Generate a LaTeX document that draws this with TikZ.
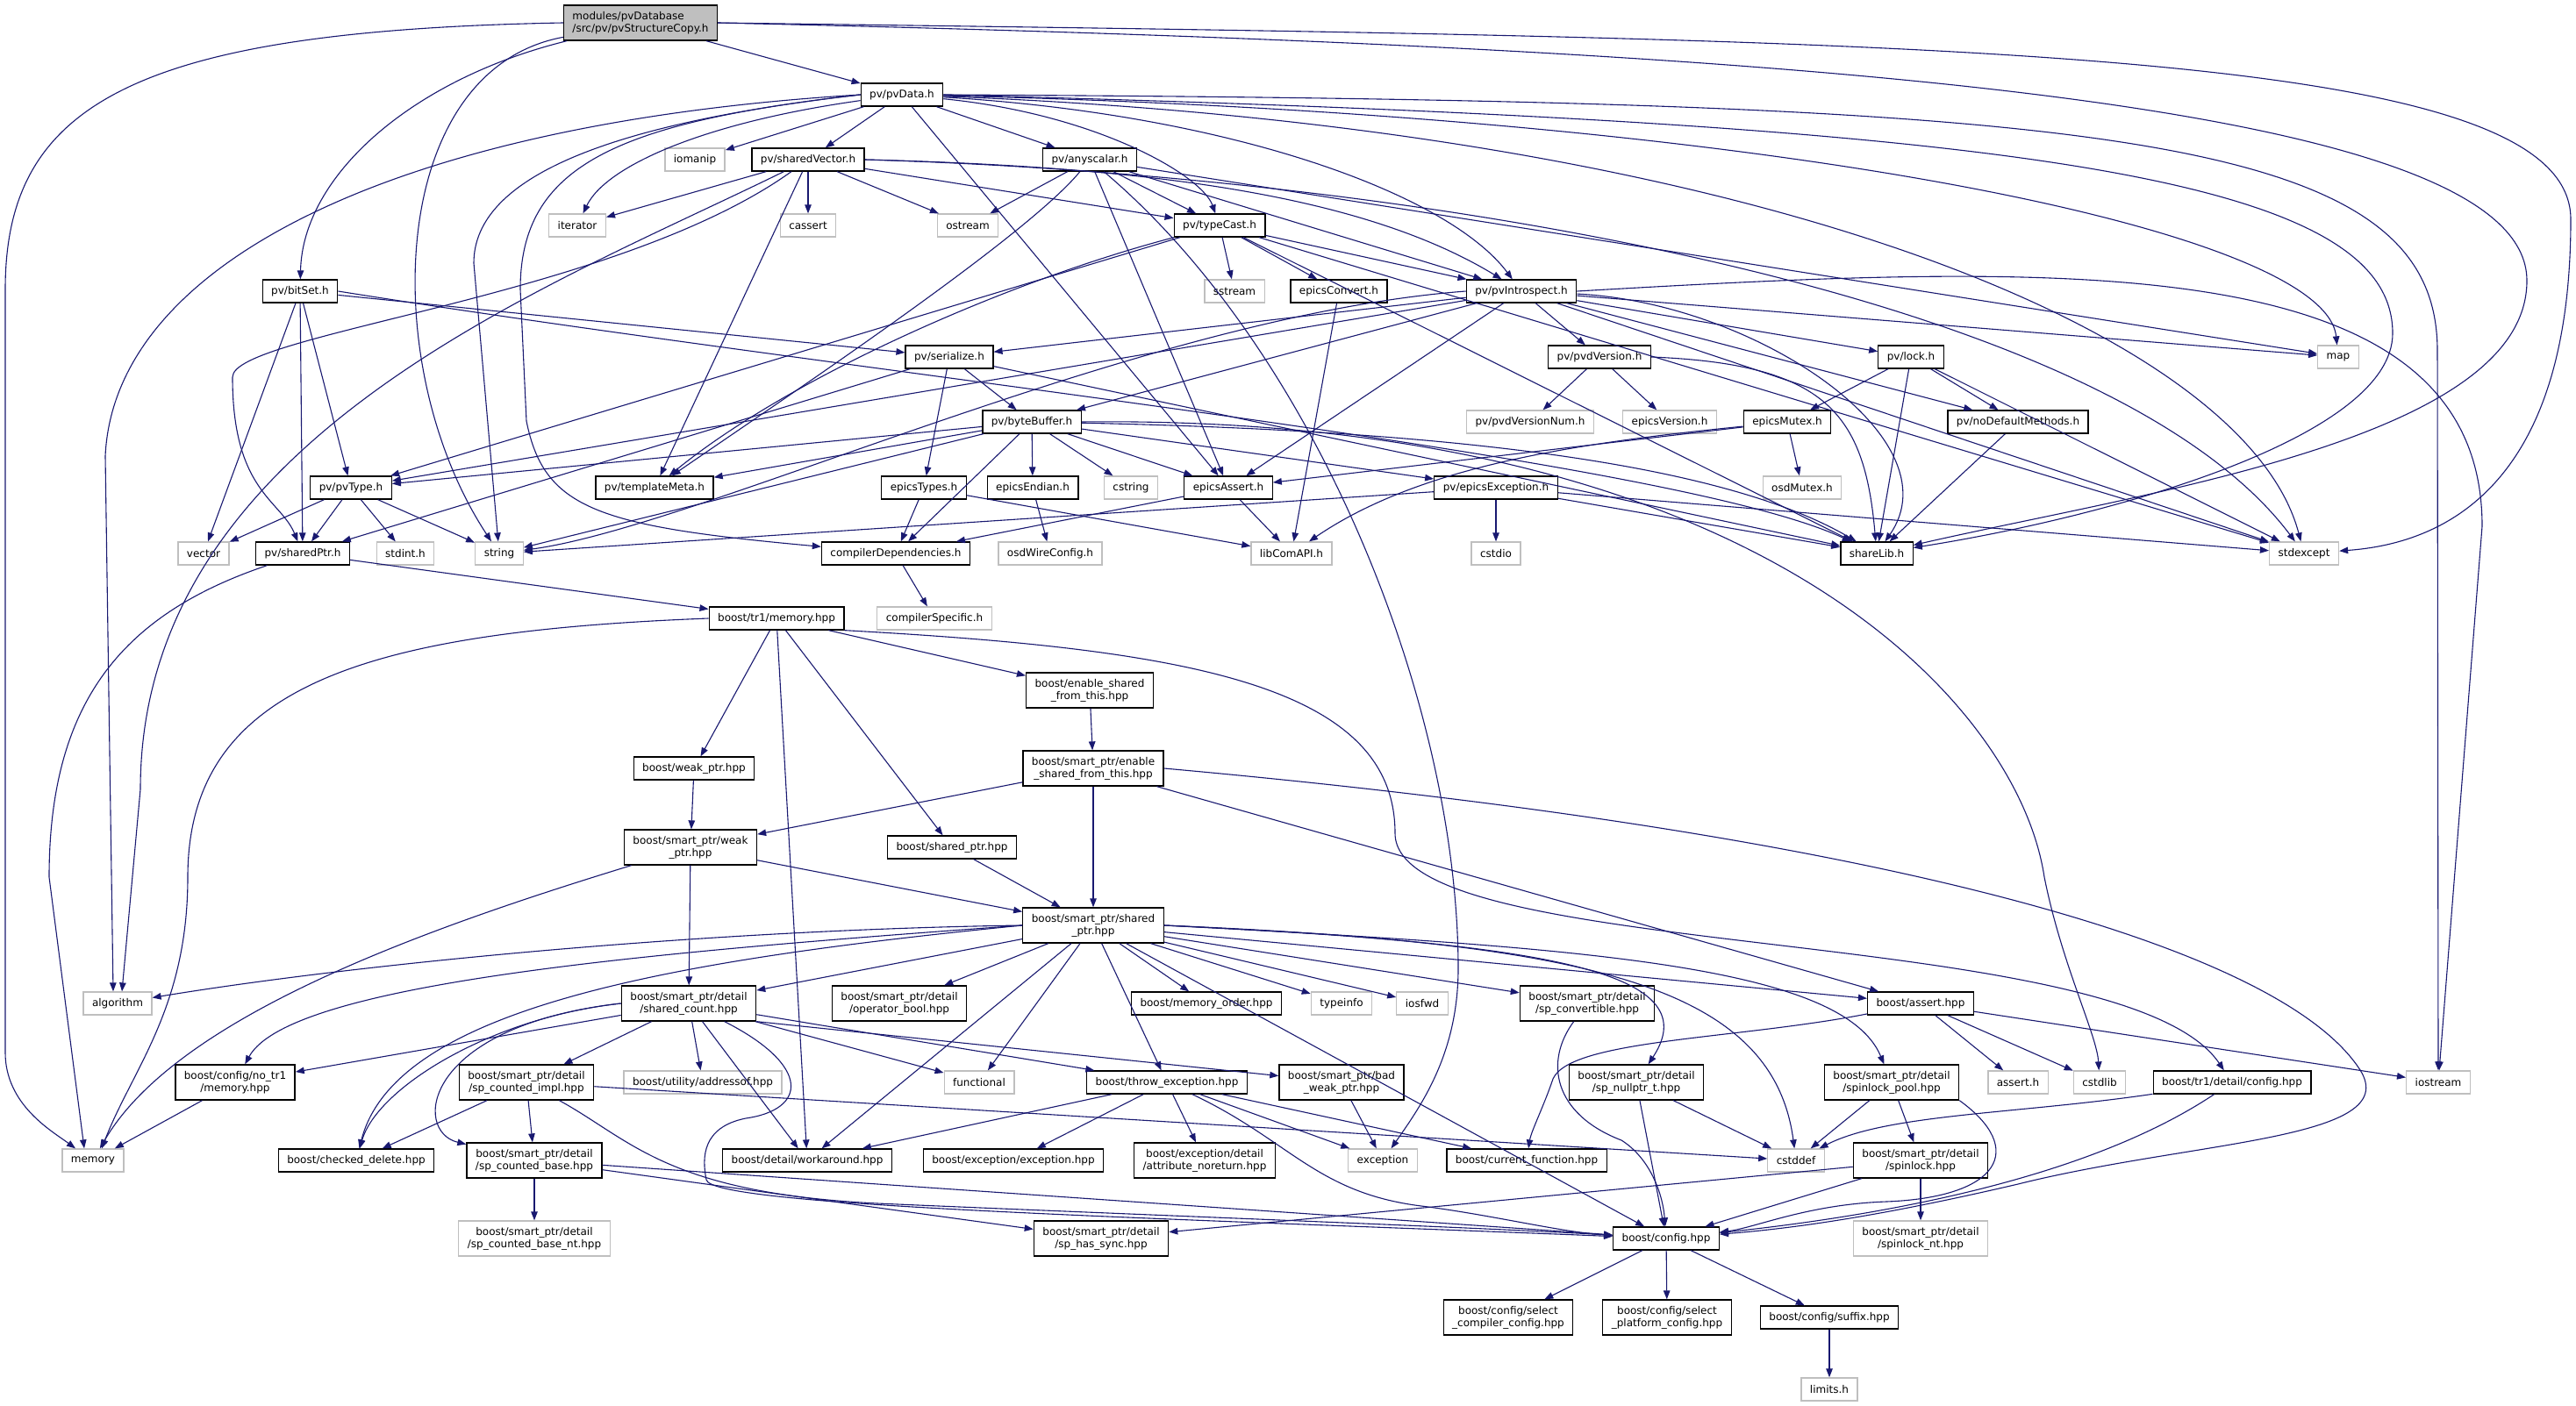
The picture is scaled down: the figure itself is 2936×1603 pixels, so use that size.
\documentclass[tikz,border=0pt]{standalone}
\usepackage{fontspec}
\setmainfont{DejaVu Sans}
\usepackage{xcolor}
\definecolor{edgeblue}{RGB}{25,25,112}
\definecolor{sysgray}{RGB}{191,191,191}
\usetikzlibrary{arrows.meta}
\tikzset{
  incl/.style={draw=black, fill=white, line width=1.3pt, inner xsep=10pt, inner ysep=4pt,
               minimum height=26pt, align=center, font=\fontsize{12}{14}\selectfont},
  sysincl/.style={incl, draw=sysgray},
  tall/.style={minimum height=40pt},
  rootfile/.style={incl, tall, fill=sysgray, align=left},
  dep/.style={draw=edgeblue, line width=1.1pt, -{Triangle[length=10pt,width=7.5pt]}},
}

\begin{document}
\begin{tikzpicture}[x=1pt,y=-1pt]
  \useasboundingbox (0,0) rectangle (2936,1603);

  % headers
  \node[rootfile] (root) at (730,26) {modules/pvDatabase\\/src/pv/pvStructureCopy.h};
  \node[incl] (pvData) at (1028,108) {pv/pvData.h};
  \node[sysincl] (iomanip) at (792,182) {iomanip};
  \node[incl] (sharedVector) at (921,182) {pv/sharedVector.h};
  \node[incl] (anyscalar) at (1242,182) {pv/anyscalar.h};
  \node[sysincl] (iterator) at (658,257) {iterator};
  \node[sysincl] (cassert) at (921,257) {cassert};
  \node[sysincl] (ostream) at (1103,257) {ostream};
  \node[incl] (typeCast) at (1390,257) {pv/typeCast.h};
  \node[incl] (bitSet) at (342,332) {pv/bitSet.h};
  \node[sysincl] (sstream) at (1407,332) {sstream};
  \node[incl] (epicsConvert) at (1526,332) {epicsConvert.h};
  \node[incl] (pvIntrospect) at (1734,332) {pv/pvIntrospect.h};
  \node[sysincl] (map) at (2665,407) {map};
  \node[incl] (serialize) at (1082,407) {pv/serialize.h};
  \node[incl] (pvdVersion) at (1823,407) {pv/pvdVersion.h};
  \node[incl] (lock) at (2178,407) {pv/lock.h};
  \node[incl] (byteBuffer) at (1176,481) {pv/byteBuffer.h};
  \node[sysincl] (pvdVersionNum) at (1744,481) {pv/pvdVersionNum.h};
  \node[sysincl] (epicsVersion) at (1903,481) {epicsVersion.h};
  \node[incl] (epicsMutex) at (2037,481) {epicsMutex.h};
  \node[incl] (noDefaultMethods) at (2300,481) {pv/noDefaultMethods.h};
  \node[incl] (pvType) at (400,556) {pv/pvType.h};
  \node[incl] (templateMeta) at (746,556) {pv/templateMeta.h};
  \node[incl] (epicsTypes) at (1053,556) {epicsTypes.h};
  \node[incl] (epicsEndian) at (1177,556) {epicsEndian.h};
  \node[sysincl] (cstring) at (1289,556) {cstring};
  \node[incl] (epicsAssert) at (1400,556) {epicsAssert.h};
  \node[incl] (epicsException) at (1705,556) {pv/epicsException.h};
  \node[sysincl] (osdMutex) at (2054,556) {osdMutex.h};
  \node[sysincl] (vector) at (232,631) {vector};
  \node[incl] (sharedPtr) at (345,631) {pv/sharedPtr.h};
  \node[sysincl] (stdint) at (462,631) {stdint.h};
  \node[sysincl] (string) at (569,631) {string};
  \node[incl] (compilerDependencies) at (1021,631) {compilerDependencies.h};
  \node[sysincl] (osdWireConfig) at (1197,631) {osdWireConfig.h};
  \node[sysincl] (libComAPI) at (1472,631) {libComAPI.h};
  \node[sysincl] (cstdio) at (1705,631) {cstdio};
  \node[incl] (shareLib) at (2139,631) {shareLib.h};
  \node[sysincl] (stdexcept) at (2626,631) {stdexcept};
  \node[sysincl] (compilerSpecific) at (1065,705) {compilerSpecific.h};
  \node[incl] (tr1memory) at (885,705) {boost/tr1/memory.hpp};
  \node[incl,tall] (enableShared) at (1242,787) {boost/enable\_shared\\\_from\_this.hpp};
  \node[incl] (weakPtr) at (791,876) {boost/weak\_ptr.hpp};
  \node[incl,tall] (spEnableShared) at (1246,876) {boost/smart\_ptr/enable\\\_shared\_from\_this.hpp};
  \node[incl,tall] (spWeakPtr) at (787,966) {boost/smart\_ptr/weak\\\_ptr.hpp};
  \node[incl] (sharedPtrHpp) at (1085,966) {boost/shared\_ptr.hpp};
  \node[incl,tall] (spSharedPtr) at (1246,1055) {boost/smart\_ptr/shared\\\_ptr.hpp};
  \node[sysincl] (algorithm) at (134,1144) {algorithm};
  \node[incl,tall] (sharedCount) at (785,1144) {boost/smart\_ptr/detail\\/shared\_count.hpp};
  \node[incl,tall] (operatorBool) at (1025,1144) {boost/smart\_ptr/detail\\/operator\_bool.hpp};
  \node[incl] (memoryOrder) at (1375,1144) {boost/memory\_order.hpp};
  \node[sysincl] (typeinfo) at (1529,1144) {typeinfo};
  \node[sysincl] (iosfwd) at (1621,1144) {iosfwd};
  \node[incl,tall] (spConvertible) at (1809,1144) {boost/smart\_ptr/detail\\/sp\_convertible.hpp};
  \node[incl] (assertHpp) at (2189,1144) {boost/assert.hpp};
  \node[incl,tall] (noTrMemory) at (268,1234) {boost/config/no\_tr1\\/memory.hpp};
  \node[incl,tall] (spCountedImpl) at (600,1234) {boost/smart\_ptr/detail\\/sp\_counted\_impl.hpp};
  \node[sysincl] (addressof) at (801,1234) {boost/utility/addressof.hpp};
  \node[sysincl] (functional) at (1116,1234) {functional};
  \node[incl] (throwException) at (1330,1234) {boost/throw\_exception.hpp};
  \node[incl,tall] (badWeakPtr) at (1529,1234) {boost/smart\_ptr/bad\\\_weak\_ptr.hpp};
  \node[incl,tall] (spNullptr) at (1865,1234) {boost/smart\_ptr/detail\\/sp\_nullptr\_t.hpp};
  \node[incl,tall] (spinlockPool) at (2156,1234) {boost/smart\_ptr/detail\\/spinlock\_pool.hpp};
  \node[sysincl] (assertH) at (2300,1234) {assert.h};
  \node[sysincl] (cstdlib) at (2393,1234) {cstdlib};
  \node[incl] (trDetailConfig) at (2544,1234) {boost/tr1/detail/config.hpp};
  \node[sysincl] (iostream) at (2779,1234) {iostream};
  \node[sysincl] (memory) at (106,1323) {memory};
  \node[incl] (checkedDelete) at (406,1323) {boost/checked\_delete.hpp};
  \node[incl,tall] (spCountedBase) at (609,1323) {boost/smart\_ptr/detail\\/sp\_counted\_base.hpp};
  \node[incl] (workaround) at (920,1323) {boost/detail/workaround.hpp};
  \node[incl] (exceptionHpp) at (1155,1323) {boost/exception/exception.hpp};
  \node[incl,tall] (attrNoreturn) at (1373,1323) {boost/exception/detail\\/attribute\_noreturn.hpp};
  \node[sysincl] (exception) at (1576,1323) {exception};
  \node[incl] (currentFunction) at (1740,1323) {boost/current\_function.hpp};
  \node[sysincl] (cstddef) at (2047,1323) {cstddef};
  \node[incl,tall] (spinlock) at (2189,1323) {boost/smart\_ptr/detail\\/spinlock.hpp};
  \node[sysincl,tall] (spCountedBaseNt) at (609,1412) {boost/smart\_ptr/detail\\/sp\_counted\_base\_nt.hpp};
  \node[incl,tall] (spHasSync) at (1255,1412) {boost/smart\_ptr/detail\\/sp\_has\_sync.hpp};
  \node[incl] (configHpp) at (1899,1412) {boost/config.hpp};
  \node[sysincl,tall] (spinlockNt) at (2189,1412) {boost/smart\_ptr/detail\\/spinlock\_nt.hpp};
  \node[incl,tall] (selectCompiler) at (1719,1502) {boost/config/select\\\_compiler\_config.hpp};
  \node[incl,tall] (selectPlatform) at (1900,1502) {boost/config/select\\\_platform\_config.hpp};
  \node[incl] (suffix) at (2085,1502) {boost/config/suffix.hpp};
  \node[sysincl] (limitsH) at (2085,1584) {limits.h};

  % straight includes
  \foreach \src/\dst in {root/pvData,
      pvData/iomanip, pvData/sharedVector, pvData/anyscalar, pvData/epicsAssert,
      sharedVector/iterator, sharedVector/cassert, sharedVector/ostream, sharedVector/typeCast, sharedVector/templateMeta,
      anyscalar/ostream, anyscalar/typeCast, anyscalar/pvIntrospect, anyscalar/epicsAssert, anyscalar/map,
      typeCast/sstream, typeCast/epicsConvert, typeCast/pvIntrospect, typeCast/pvType, typeCast/shareLib, typeCast/stdexcept,
      bitSet/vector, bitSet/pvType, bitSet/sharedPtr, bitSet/serialize,
      pvIntrospect/serialize, pvIntrospect/byteBuffer, pvIntrospect/pvType, pvIntrospect/epicsAssert, pvIntrospect/pvdVersion,
      pvIntrospect/lock, pvIntrospect/noDefaultMethods, pvIntrospect/map, pvIntrospect/stdexcept,
      serialize/byteBuffer, serialize/epicsTypes, serialize/sharedPtr, serialize/shareLib,
      byteBuffer/pvType, byteBuffer/templateMeta, byteBuffer/string, byteBuffer/compilerDependencies, byteBuffer/epicsEndian,
      byteBuffer/cstring, byteBuffer/epicsAssert, byteBuffer/epicsException,
      pvdVersion/pvdVersionNum, pvdVersion/epicsVersion,
      lock/epicsMutex, lock/shareLib, lock/noDefaultMethods, lock/stdexcept,
      epicsMutex/osdMutex, epicsMutex/epicsAssert, noDefaultMethods/shareLib,
      pvType/vector, pvType/sharedPtr, pvType/stdint, pvType/string,
      epicsTypes/compilerDependencies, epicsTypes/libComAPI, epicsEndian/osdWireConfig,
      epicsAssert/compilerDependencies, epicsAssert/libComAPI, epicsConvert/libComAPI,
      epicsException/cstdio, epicsException/string, epicsException/stdexcept, epicsException/shareLib,
      compilerDependencies/compilerSpecific, sharedPtr/tr1memory,
      tr1memory/enableShared, tr1memory/weakPtr, tr1memory/sharedPtrHpp, tr1memory/workaround,
      enableShared/spEnableShared, weakPtr/spWeakPtr, sharedPtrHpp/spSharedPtr,
      spEnableShared/spWeakPtr, spEnableShared/spSharedPtr, spEnableShared/assertHpp,
      spWeakPtr/sharedCount, spWeakPtr/spSharedPtr,
      spSharedPtr/sharedCount, spSharedPtr/operatorBool, spSharedPtr/functional, spSharedPtr/workaround,
      spSharedPtr/throwException, spSharedPtr/memoryOrder, spSharedPtr/typeinfo, spSharedPtr/iosfwd,
      spSharedPtr/spConvertible, spSharedPtr/assertHpp, spSharedPtr/configHpp,
      sharedCount/noTrMemory, sharedCount/spCountedImpl, sharedCount/addressof, sharedCount/functional,
      sharedCount/throwException, sharedCount/workaround, noTrMemory/memory,
      spCountedImpl/checkedDelete, spCountedImpl/spCountedBase, spCountedImpl/cstddef,
      spCountedBase/spCountedBaseNt, spCountedBase/spHasSync, spCountedBase/configHpp,
      throwException/workaround, throwException/exceptionHpp, throwException/attrNoreturn,
      throwException/exception, throwException/currentFunction, badWeakPtr/exception,
      spNullptr/configHpp, spNullptr/cstddef, assertHpp/assertH, assertHpp/cstdlib, assertHpp/iostream,
      spinlockPool/cstddef, spinlockPool/spinlock, spinlock/spHasSync, spinlock/configHpp, spinlock/spinlockNt,
      configHpp/selectCompiler, configHpp/selectPlatform, configHpp/suffix, suffix/limitsH}
    \draw[dep] (\src) -- (\dst);

  % routed includes
  \draw[dep] (root) .. controls (470,90) and (345,200) .. (bitSet);
  \draw[dep] (root) .. controls (440,80) and (430,420) .. (string);
  \draw[dep] (root.west) .. controls (150,35) and (6,120) .. (6,330) -- (6,1200)
    .. controls (6,1260) and (60,1290) .. ([xshift=-20pt]memory.north);
  \draw[dep] (root.east) .. controls (2200,45) and (2930,50) .. (2930,250)
    .. controls (2930,560) and (2780,620) .. (stdexcept);
  \draw[dep] (root.east) .. controls (2100,55) and (2880,120) .. (2880,320)
    .. controls (2880,500) and (2450,560) .. (shareLib);
  \draw[dep] (pvData) .. controls (800,140) and (690,190) .. (iterator);
  \draw[dep] (pvData) .. controls (1250,130) and (1370,200) .. (typeCast);
  \draw[dep] (pvData) .. controls (1400,130) and (1650,220) .. (pvIntrospect);
  \draw[dep] (pvData) .. controls (2000,130) and (2650,260) .. (map);
  \draw[dep] (pvData) .. controls (2000,145) and (2560,380) .. (stdexcept);
  \draw[dep] (pvData.east) .. controls (2300,140) and (2727,200) .. (2727,380)
    .. controls (2727,500) and (2400,590) .. (shareLib);
  \draw[dep] (pvData.east) .. controls (2400,115) and (2778,150) .. (2778,400) -- (iostream);
  \draw[dep] (pvData.west) .. controls (450,140) and (130,300) .. (120,520) -- ([xshift=-5pt]algorithm.north);
  \draw[dep] (pvData.west) .. controls (700,140) and (540,200) .. (540,300) -- (string);
  \draw[dep] (pvData.west) .. controls (700,140) and (593,190) .. (593,330) -- (600,480)
    .. controls (620,580) and (680,600) .. (compilerDependencies);
  \draw[dep] (sharedVector) .. controls (620,330) and (160,500) .. (160,900) -- ([xshift=5pt]algorithm.north);
  \draw[dep] (sharedVector) .. controls (700,340) and (265,380) .. (265,430)
    .. controls (265,560) and (320,570) .. (sharedPtr);
  \draw[dep] (sharedVector.east) .. controls (1600,200) and (2400,330) .. (stdexcept);
  \draw[dep] (sharedVector.east) .. controls (1300,190) and (1550,220) .. (pvIntrospect);
  \draw[dep] (anyscalar) .. controls (1170,270) and (900,450) .. (templateMeta);
  \draw[dep] (anyscalar) .. controls (1500,400) and (1660,800) .. (1662,1100)
    .. controls (1663,1200) and (1620,1260) .. (exception);
  \draw[dep] (typeCast) .. controls (1150,320) and (900,430) .. (templateMeta);
  \draw[dep] (bitSet.east) .. controls (1000,430) and (1900,520) .. (shareLib);
  \draw[dep] (pvIntrospect) .. controls (2000,345) and (2230,500) .. (shareLib);
  \draw[dep] (pvIntrospect.west) .. controls (1300,360) and (800,600) .. (string);
  \draw[dep] (pvIntrospect.east) .. controls (2350,300) and (2829,280) .. (2829,600) -- (iostream);
  \draw[dep] (pvdVersion.east) .. controls (2080,415) and (2125,470) .. (shareLib);
  \draw[dep] (epicsMutex) .. controls (1800,505) and (1620,530) .. (libComAPI);
  \draw[dep] (byteBuffer) .. controls (1600,490) and (1950,520) .. (shareLib);
  \draw[dep] (byteBuffer.east) .. controls (2000,472) and (2300,800) .. (2330,1000)
    .. controls (2350,1100) and (2390,1180) .. (cstdlib);
  \draw[dep] (sharedPtr) .. controls (140,700) and (56,800) .. (56,1000) -- ([xshift=-10pt]memory.north);
  \draw[dep] (tr1memory.west) .. controls (420,720) and (214,780) .. (214,1000)
    .. controls (214,1150) and (150,1220) .. ([xshift=10pt]memory.north);
  \draw[dep] (tr1memory.south east) .. controls (1350,740) and (1590,780) .. (1590,950)
    .. controls (1590,1100) and (2420,1050) .. (trDetailConfig);
  \draw[dep] (spWeakPtr) .. controls (480,1060) and (200,1160) .. (memory);
  \draw[dep] (spEnableShared.east) .. controls (2150,950) and (2600,1080) .. (2690,1220)
    .. controls (2740,1300) and (2500,1300) .. (2300,1350)
    .. controls (2150,1385) and (2050,1400) .. (configHpp);
  \draw[dep] (spSharedPtr.west) .. controls (800,1060) and (400,1100) .. (algorithm);
  \draw[dep] (spSharedPtr.west) .. controls (750,1085) and (330,1120) .. (noTrMemory);
  \draw[dep] (spSharedPtr.west) .. controls (760,1095) and (450,1150) .. (checkedDelete);
  \draw[dep] (spSharedPtr.east) .. controls (1800,1080) and (2100,1100) .. (spinlockPool);
  \draw[dep] (spSharedPtr.east) .. controls (1800,1075) and (2020,1120) .. (cstddef);
  \draw[dep] (spSharedPtr.east) .. controls (1750,1075) and (1950,1105) .. (spNullptr);
  \draw[dep] (sharedCount.west) .. controls (560,1160) and (430,1240) .. (checkedDelete);
  \draw[dep] (sharedCount.west) .. controls (480,1170) and (470,1290) .. (spCountedBase);
  \draw[dep] (sharedCount.south east) -- (badWeakPtr);
  \draw[dep] (sharedCount) .. controls (925,1215) and (920,1265) .. (850,1275)
    .. controls (800,1285) and (800,1320) .. (805,1345)
    .. controls (810,1375) and (1300,1388) .. (configHpp);
  \draw[dep] (spCountedImpl) .. controls (720,1300) and (760,1360) .. (1000,1372)
    .. controls (1300,1385) and (1700,1400) .. (configHpp);
  \draw[dep] (throwException) .. controls (1470,1300) and (1500,1360) .. (1620,1375)
    .. controls (1700,1385) and (1780,1405) .. (configHpp);
  \draw[dep] (spConvertible) .. controls (1760,1210) and (1770,1270) .. (1848,1300)
    .. controls (1880,1320) and (1895,1360) .. (configHpp);
  \draw[dep] (assertHpp) .. controls (1980,1185) and (1790,1185) .. (1770,1230)
    .. controls (1760,1260) and (1745,1290) .. (currentFunction);
  \draw[dep] (spinlockPool.south east) .. controls (2310,1310) and (2280,1365) .. (2150,1370)
    .. controls (2060,1373) and (2000,1400) .. (configHpp);
  \draw[dep] (trDetailConfig) .. controls (2300,1270) and (2150,1270) .. (cstddef);
  \draw[dep] (trDetailConfig) .. controls (2400,1330) and (2200,1380) .. (configHpp);
\end{tikzpicture}
\end{document}
